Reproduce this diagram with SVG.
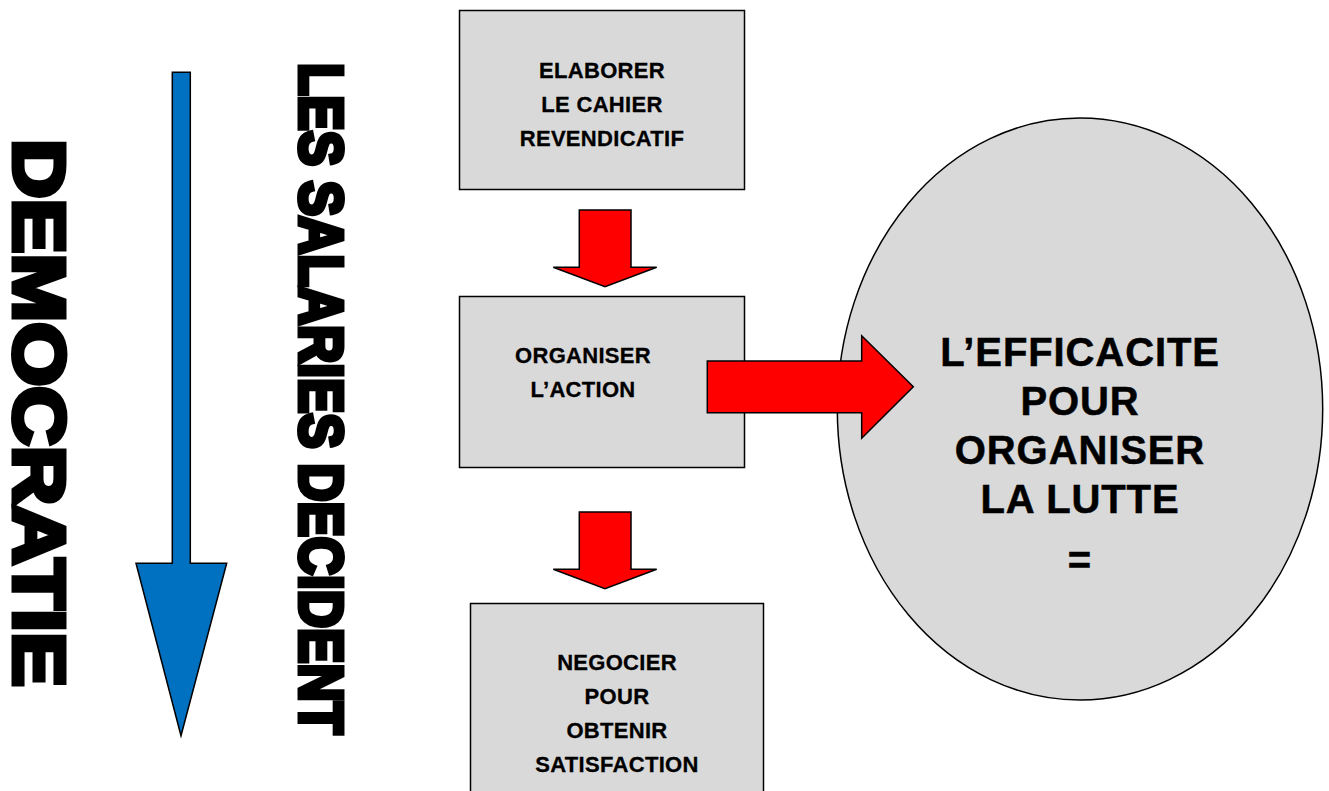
<svg xmlns="http://www.w3.org/2000/svg" width="1329" height="791" viewBox="0 0 1329 791">
<style>
.box{fill:#D9D9D9;stroke:#000;stroke-width:1.5}
.bt{font-family:"Liberation Sans",Arial,sans-serif;font-weight:bold;font-size:22px;letter-spacing:0.3px;text-anchor:middle;fill:#000;stroke:#000;stroke-width:0.3}
.et{font-family:"Liberation Sans",Arial,sans-serif;font-weight:bold;font-size:40px;letter-spacing:0.9px;text-anchor:middle;fill:#000;stroke:#000;stroke-width:0.5}
.vt{font-family:"Liberation Sans",Arial,sans-serif;font-weight:bold;fill:#000;stroke:#000;stroke-width:5;stroke-linejoin:miter}
.red{fill:#FF0000;stroke:#000;stroke-width:1.5}
.blue{fill:#0070C0;stroke:#000;stroke-width:1.5}
</style>
<rect width="1329" height="791" fill="#fff"/>
<g id="label-democratie">
<text class="vt" transform="translate(14.2,139) rotate(90)" font-size="73" textLength="548" lengthAdjust="spacingAndGlyphs">DEMOCRATIE</text>
</g>
<g id="label-salaries">
<text class="vt" transform="translate(300.2,63) rotate(90)" font-size="61.5" textLength="671" lengthAdjust="spacingAndGlyphs">LES SALARIES DECIDENT</text>
</g>
<g id="node-elaborer">
<rect class="box" x="459.5" y="10.5" width="285" height="179"/>
<text class="bt" x="602" y="77.5">ELABORER</text>
<text class="bt" x="602" y="111.5">LE CAHIER</text>
<text class="bt" x="602" y="145.5">REVENDICATIF</text>
</g>
<g id="node-organiser">
<rect class="box" x="459.5" y="296.5" width="285" height="171"/>
<text class="bt" x="583" y="363">ORGANISER</text>
<text class="bt" x="583" y="397">L’ACTION</text>
</g>
<g id="node-negocier">
<rect class="box" x="470.5" y="603.5" width="293" height="200"/>
<text class="bt" x="617" y="670">NEGOCIER</text>
<text class="bt" x="617" y="704">POUR</text>
<text class="bt" x="617" y="738">OBTENIR</text>
<text class="bt" x="617" y="772">SATISFACTION</text>
</g>
<g id="node-efficacite">
<ellipse class="box" cx="1080" cy="409" rx="242.7" ry="291"/>
<text class="et" x="1080" y="366">L’EFFICACITE</text>
<text class="et" x="1080" y="415">POUR</text>
<text class="et" x="1080" y="464">ORGANISER</text>
<text class="et" x="1080" y="513">LA LUTTE</text>
<text class="et" x="1080" y="574">=</text>
</g>
<g id="connectors">
<polygon class="blue" points="172.3,72.3 190.3,72.3 190.3,563.3 226.7,563.3 181,735.7 136,563.3 172.3,563.3"/>
<polygon class="red" points="579.3,210 631,210 631,267.3 656.7,267.3 605,286.7 553.3,267.3 579.3,267.3"/>
<polygon class="red" points="579.3,512 631,512 631,569.3 656.7,569.3 605,588.7 553.3,569.3 579.3,569.3"/>
<polygon class="red" points="707.3,361 861.7,361 861.7,335.7 913.3,386.7 861.7,438.3 861.7,412.7 707.3,412.7"/>
</g>
</svg>
